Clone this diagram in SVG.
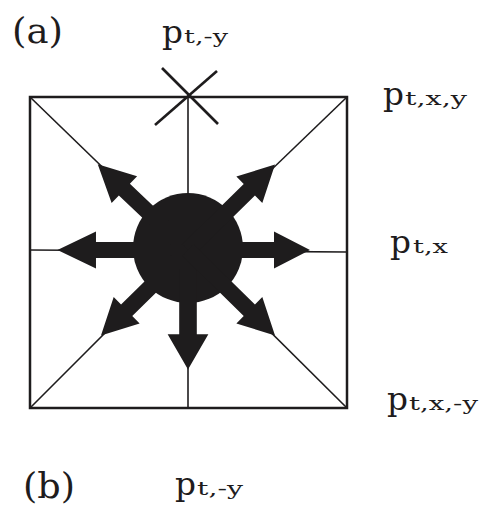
<svg xmlns="http://www.w3.org/2000/svg" width="486" height="517" viewBox="0 0 486 517">
<style>
.frame{fill:none;stroke:#1e1c1d;stroke-width:2.5}
.thin{stroke:#1e1c1d;stroke-width:1.6;fill:none}
.cross{stroke:#1e1c1d;stroke-width:2.6;fill:none}
.blk{fill:#1e1c1d}
.lbl{font-family:"DejaVu Serif","Liberation Serif",serif;fill:#1e1c1d}
.big{font-size:31px}
.sub{font-size:19px}
.tag{font-size:36px}
</style>
<defs>
<path id="arr" d="M0,-8 H86 V-18.5 L122,0 L86,18.5 V8 H0 Z"/>
</defs>
<g id="connectors">
<rect class="frame" x="30" y="97" width="317" height="311"/>
<line class="thin" x1="188" y1="97" x2="188" y2="408"/>
<line class="thin" x1="30" y1="250" x2="347" y2="252"/>
<line class="thin" x1="30" y1="97" x2="188" y2="250"/>
<line class="thin" x1="347" y1="97" x2="188" y2="250"/>
<line class="thin" x1="30" y1="408" x2="188" y2="250"/>
<line class="thin" x1="347" y1="408" x2="188" y2="250"/>
<line class="cross" x1="162" y1="68" x2="218" y2="124"/>
<line class="cross" x1="155" y1="125" x2="217" y2="71"/>
</g>
<g id="source">
<circle class="blk" cx="188" cy="248" r="55"/>
<use href="#arr" class="blk" transform="translate(188,250)"/>
<use href="#arr" class="blk" transform="translate(188,250) rotate(180) scale(1.07,1)"/>
<use href="#arr" class="blk" transform="translate(188,250) rotate(90) scale(0.98,1.1)"/>
<use href="#arr" class="blk" transform="translate(188,250) rotate(-136.5) scale(1.02,1)"/>
<use href="#arr" class="blk" transform="translate(188,250) rotate(-44.5)"/>
<use href="#arr" class="blk" transform="translate(188,250) rotate(135.5)"/>
<use href="#arr" class="blk" transform="translate(188,250) rotate(44.5)"/>
</g>
<g id="label-a"><text class="lbl tag" x="12" y="43" textLength="51" lengthAdjust="spacingAndGlyphs">(a)</text></g>
<g id="label-b"><text class="lbl tag" x="23" y="498" textLength="52" lengthAdjust="spacingAndGlyphs">(b)</text></g>
<g id="p-t-my-top">
<text class="lbl big" x="162" y="43" textLength="21" lengthAdjust="spacingAndGlyphs">p</text>
<text class="lbl sub" x="184" y="43" textLength="44" lengthAdjust="spacingAndGlyphs">t,-y</text>
</g>
<g id="p-t-x-y">
<text class="lbl big" x="383" y="105" textLength="21" lengthAdjust="spacingAndGlyphs">p</text>
<text class="lbl sub" x="405" y="105" textLength="62" lengthAdjust="spacingAndGlyphs">t,x,y</text>
</g>
<g id="p-t-x">
<text class="lbl big" x="390" y="253" textLength="21" lengthAdjust="spacingAndGlyphs">p</text>
<text class="lbl sub" x="413" y="253" textLength="35" lengthAdjust="spacingAndGlyphs">t,x</text>
</g>
<g id="p-t-x-my">
<text class="lbl big" x="387" y="410" textLength="21" lengthAdjust="spacingAndGlyphs">p</text>
<text class="lbl sub" x="409" y="410" textLength="69" lengthAdjust="spacingAndGlyphs">t,x,-y</text>
</g>
<g id="p-t-my-bottom">
<text class="lbl big" x="175" y="495" textLength="21" lengthAdjust="spacingAndGlyphs">p</text>
<text class="lbl sub" x="197" y="495" textLength="46" lengthAdjust="spacingAndGlyphs">t,-y</text>
</g>
</svg>
